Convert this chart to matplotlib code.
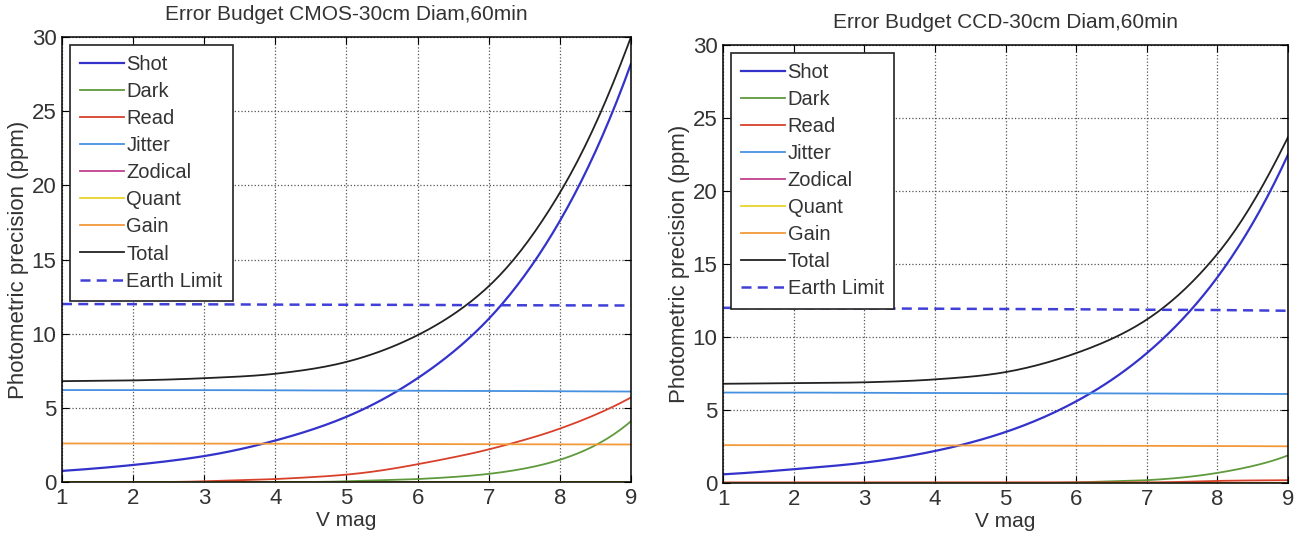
import matplotlib
matplotlib.use("Agg")
import matplotlib.pyplot as plt
import numpy as np

plt.rcParams['font.family'] = ['Liberation Sans', 'DejaVu Sans']

# V magnitude sample points
vmag = [1, 2, 3, 4, 5, 6, 7, 8, 9]

# CMOS 30cm, 60 min (ppm)
cmos_shot = [0.75, 1.15, 1.75, 2.8, 4.4, 7.0, 11.0, 17.6, 28.2]
cmos_dark = [0.0, 0.0, 0.0, 0.0, 0.05, 0.2, 0.55, 1.5, 4.1]
cmos_read = [0.0, 0.0, 0.05, 0.2, 0.5, 1.2, 2.2, 3.6, 5.7]
cmos_jitter = [6.2, 6.2, 6.2, 6.18, 6.17, 6.15, 6.14, 6.12, 6.1]
cmos_zodi = [0.02, 0.02, 0.02, 0.02, 0.02, 0.02, 0.02, 0.02, 0.02]
cmos_quant = [0.0, 0.0, 0.0, 0.0, 0.0, 0.0, 0.0, 0.0, 0.0]
cmos_gain = [2.6, 2.6, 2.59, 2.58, 2.57, 2.56, 2.55, 2.54, 2.53]
cmos_total = [6.8, 6.85, 7.0, 7.3, 8.1, 9.9, 13.2, 19.5, 30.0]
cmos_earth = [12.0, 11.99, 11.98, 11.96, 11.95, 11.94, 11.92, 11.91, 11.9]

# CCD 30cm, 60 min
ccd_shot = [0.6, 0.95, 1.4, 2.2, 3.5, 5.6, 8.9, 14.1, 22.5]
ccd_dark = [0.0, 0.0, 0.0, 0.0, 0.0, 0.05, 0.2, 0.7, 1.9]
ccd_read = [0.05, 0.05, 0.05, 0.05, 0.05, 0.05, 0.05, 0.15, 0.2]
ccd_jitter = [6.2, 6.2, 6.18, 6.17, 6.16, 6.15, 6.13, 6.12, 6.1]
ccd_zodi = [0.02, 0.02, 0.02, 0.02, 0.02, 0.02, 0.02, 0.02, 0.02]
ccd_quant = [0.0, 0.0, 0.0, 0.0, 0.0, 0.0, 0.0, 0.0, 0.0]
ccd_gain = [2.6, 2.6, 2.59, 2.58, 2.57, 2.56, 2.55, 2.54, 2.52]
ccd_total = [6.8, 6.85, 6.9, 7.1, 7.6, 8.9, 11.2, 15.7, 23.7]
ccd_earth = [12.0, 11.98, 11.96, 11.94, 11.92, 11.9, 11.87, 11.85, 11.8]

labels = ['Shot', 'Dark', 'Read', 'Jitter', 'Zodical', 'Quant', 'Gain', 'Total', 'Earth Limit']
cols = ['#3333cc', '#5f9a3c', '#d8402a', '#4690e0', '#c0408f', '#e6d42a', '#f29a3a', '#222222', '#4040d8']

panels = [
    ('Error Budget CMOS-30cm Diam,60min', [0.0474, 0.109, 0.435, 0.8226],
     [cmos_shot, cmos_dark, cmos_read, cmos_jitter, cmos_zodi, cmos_quant, cmos_gain, cmos_total, cmos_earth]),
    ('Error Budget CCD-30cm Diam,60min', [0.5528, 0.107, 0.432, 0.81],
     [ccd_shot, ccd_dark, ccd_read, ccd_jitter, ccd_zodi, ccd_quant, ccd_gain, ccd_total, ccd_earth]),
]


def smooth(x, y, n=20):
    # catmull-rom through the read points, done in log space
    x = np.asarray(x, float)
    ly = np.log(np.asarray(y, float) + 1e-3)
    p = np.concatenate([[2 * ly[0] - ly[1]], ly, [2 * ly[-1] - ly[-2]]])
    xo, yo = [], []
    t = np.linspace(0, 1, n, endpoint=False)
    for i in range(len(x) - 1):
        p0, p1, p2, p3 = p[i], p[i + 1], p[i + 2], p[i + 3]
        v = 0.5 * (2 * p1 + (-p0 + p2) * t + (2 * p0 - 5 * p1 + 4 * p2 - p3) * t ** 2
                   + (-p0 + 3 * p1 - 3 * p2 + p3) * t ** 3)
        xo.append(x[i] + t * (x[i + 1] - x[i]))
        yo.append(v)
    xo.append([x[-1]])
    yo.append([ly[-1]])
    return np.concatenate(xo), np.exp(np.concatenate(yo)) - 1e-3


fig = plt.figure(figsize=(13.08, 5.41), dpi=100)
tc = '#333333'

for title, pos, series in panels:
    ax = fig.add_axes(pos)
    for lab, c, ys in zip(labels, cols, series):
        if lab == 'Earth Limit':
            ax.plot(vmag, ys, color=c, lw=1.8, ls=(0, (4, 2.5)), label=lab)
        else:
            xs, yy = smooth(vmag, ys)
            ax.plot(xs, np.clip(yy, 0, None), color=c,
                    lw=1.6 if lab == 'Shot' else 1.3, label=lab)
    ax.set_xlim(1, 9)
    ax.set_ylim(0, 30)
    ax.set_xticks(range(1, 10))
    ax.set_yticks(range(0, 31, 5))
    ax.grid(True, ls=':', color='#555555', lw=0.9)
    ax.tick_params(direction='in', top=True, right=True, labelsize=16,
                   labelcolor=tc, length=5, pad=4)
    for s in ax.spines.values():
        s.set_linewidth(1.1)
    ax.set_title(title, fontsize=15, color=tc, pad=12)
    ax.set_xlabel('V mag', fontsize=15, color=tc, labelpad=2)
    ax.set_ylabel('Photometric precision (ppm)', fontsize=16, color=tc, labelpad=2)
    leg = ax.legend(loc='upper left', fontsize=14.5, handlelength=2.2,
                    handletextpad=0.1, labelspacing=0.4, borderpad=0.5,
                    fancybox=False, framealpha=1, edgecolor='#222222',
                    borderaxespad=0.4)
    leg.get_frame().set_linewidth(1.2)
    for t in leg.get_texts():
        t.set_color(tc)

plt.savefig('out.png')
